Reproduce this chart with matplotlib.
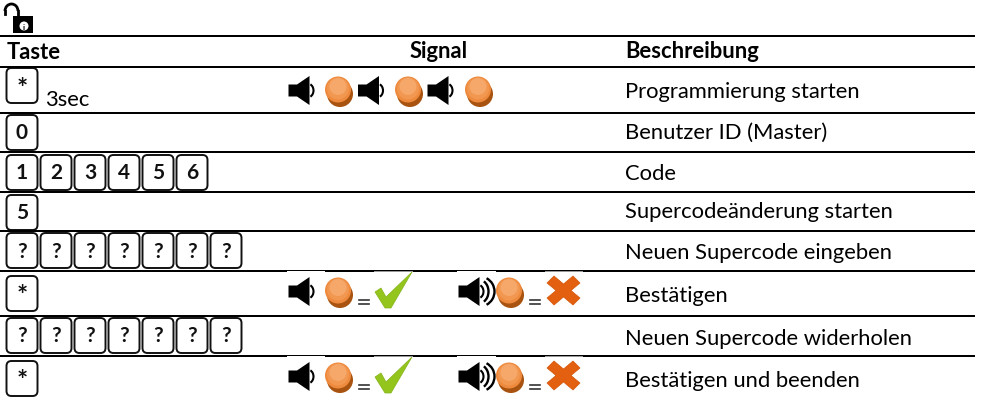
"""Keypad programming table: keys, signal icons and descriptions."""
import matplotlib
matplotlib.use("Agg")
import matplotlib.pyplot as plt
from matplotlib.patches import Arc, Circle, FancyBboxPatch, Polygon, Rectangle

plt.rcParams["font.family"] = ["Lato", "DejaVu Sans"]

headers = ["Taste", "Signal", "Beschreibung"]
row_keys = [
    ["*"],
    ["0"],
    ["1", "2", "3", "4", "5", "6"],
    ["5"],
    ["?", "?", "?", "?", "?", "?", "?"],
    ["*"],
    ["?", "?", "?", "?", "?", "?", "?"],
    ["*"],
]
row_notes = ["3sec", "", "", "", "", "", "", ""]
row_signals = ["start", "", "", "", "", "result", "", "result"]
descriptions = [
    "Programmierung starten",
    "Benutzer ID (Master)",
    "Code",
    "Supercodeänderung starten",
    "Neuen Supercode eingeben",
    "Bestätigen",
    "Neuen Supercode widerholen",
    "Bestätigen und beenden",
]

# layout in pixels
rule_ys = [37, 68, 114, 153, 193, 232, 272, 317, 357]
row_tops = [68, 114, 153, 193, 232, 272, 317, 357]
key_tops = [69, 116, 156, 196, 234, 277, 319, 362]
text_baselines = [98, 139, 180, 218, 259, 302, 345, 387]

FONT = 15.8
LAMP = "#ee8a3e"
LAMP_MID = "#f2974f"
LAMP_TOP = "#f6a76a"
SHADOW = "#a8530f"

fig = plt.figure(figsize=(9.81, 4.02), dpi=100)
ax = fig.add_axes([0, 0, 1, 1])
ax.set_xlim(0, 981)
ax.set_ylim(402, 0)
ax.axis("off")


def draw_key(x, y, label):
    ax.add_patch(FancyBboxPatch((x + 5, y + 5), 21, 25,
                                boxstyle="round,pad=5,rounding_size=5",
                                fc="white", ec="#111111", lw=1.4))
    if label == "*":
        ax.text(x + 15.5, y + 19.5, label, ha="center", va="center", fontsize=19,
                fontweight="bold", color="#111111")
    else:
        ax.text(x + 15.5, y + 17.5, label, ha="center", va="center", fontsize=15,
                fontweight="bold", color="#111111")


def draw_speaker(x, cy, loud=False):
    ax.add_patch(Polygon([(x, cy - 6), (x + 8.5, cy - 6), (x + 21, cy - 14.5),
                          (x + 21, cy + 14.5), (x + 8.5, cy + 6), (x, cy + 6)],
                         fc="black", ec="none"))
    ax.add_patch(Arc((x + 19, cy), 12, 14, theta1=-65, theta2=65, color="black", lw=1.5))
    if loud:
        ax.add_patch(Arc((x + 20, cy), 20, 24, theta1=-62, theta2=62, color="black", lw=1.7))
        ax.add_patch(Arc((x + 21, cy), 30, 30, theta1=-62, theta2=62, color="black", lw=1.7))


def draw_lamp(cx, cy):
    ax.add_patch(Circle((cx + 2, cy + 4.5), 13, fc=SHADOW, ec="none"))
    ax.add_patch(Circle((cx, cy), 13, fc=LAMP, ec="none"))
    ax.add_patch(Circle((cx, cy - 1), 11, fc=LAMP_MID, ec="none"))
    ax.add_patch(Circle((cx, cy - 3), 8.5, fc=LAMP_TOP, ec="none"))


def draw_equals(cx, y):
    ax.plot([cx - 5, cx + 5], [y - 2, y - 2], color="#333333", lw=1.2)
    ax.plot([cx - 5, cx + 5], [y + 2, y + 2], color="#333333", lw=1.2)


def draw_check(top):
    ax.add_patch(Polygon([(375, top + 21), (381, top + 17), (386, top + 26),
                          (412, top + 1), (391, top + 37), (385, top + 37)],
                         fc="#93c51d", ec="#84b318", lw=0.5))


def draw_cross(top):
    pts = [(547, top + 7), (554, top), (563.5, top + 8), (573, top), (580, top + 7),
           (571, top + 14.5), (580, top + 22), (573, top + 29), (563.5, top + 21),
           (554, top + 29), (547, top + 22), (556, top + 14.5)]
    ax.add_patch(Polygon(pts, fc="#e2600f", ec="#d4560a", lw=0.5))


# ── Lock icon ──
ax.add_patch(Arc((11.5, 12), 13, 14, theta1=180, theta2=360, color="black", lw=2))
ax.plot([5, 5], [12, 15], color="black", lw=2)
ax.plot([18, 18], [12, 18], color="black", lw=2)
ax.add_patch(Rectangle((13, 17), 20, 17, fc="black", ec="none"))
ax.add_patch(Circle((24, 27), 4.5, fc="white", ec="none"))
ax.text(24, 27, "i", ha="center", va="center", fontsize=6, fontweight="bold", color="black")

# ── Rules and header ──
for y in rule_ys:
    ax.plot([0, 975], [y, y], color="black", lw=1.44, solid_capstyle="butt")

ax.text(7, 59, headers[0], ha="left", va="baseline", fontsize=FONT, fontweight="bold")
ax.text(439, 58.5, headers[1], ha="center", va="baseline", fontsize=FONT, fontweight="bold")
ax.text(625, 58.5, headers[2], ha="left", va="baseline", fontsize=FONT, fontweight="bold")

# ── Table rows ──
for keys, note, signal, desc, top, key_top, base in zip(
        row_keys, row_notes, row_signals, descriptions, row_tops, key_tops, text_baselines):
    for i, key in enumerate(keys):
        draw_key(6.5 + i * 34, key_top, key)
    if note:
        ax.text(45, 106, note, ha="left", va="baseline", fontsize=FONT)
    if signal == "start":
        for i in range(3):
            draw_speaker(288.5 + i * 69.5, top + 23.5)
            draw_lamp(338 + i * 70, top + 22.5)
    elif signal == "result":
        # the pasted icons clip the rule above them
        for x0, x1, col in [(287, 325, "white"), (374, 413, "#999999"),
                            (457, 496, "white"), (545, 583, "#999999")]:
            ax.add_patch(Rectangle((x0, top), x1 - x0, 1.2, fc=col, ec="none", zorder=3))
        draw_speaker(288.5, top + 20.5)
        draw_lamp(338, top + 19.5)
        draw_equals(364, top + 31)
        draw_check(top)
        draw_speaker(458.5, top + 20.5, loud=True)
        draw_lamp(509, top + 19.5)
        draw_equals(535, top + 31)
        draw_cross(top + 5)
    ax.text(625, base, desc, ha="left", va="baseline", fontsize=FONT)

fig.savefig("out.png", dpi=100, facecolor="white")
plt.close()
